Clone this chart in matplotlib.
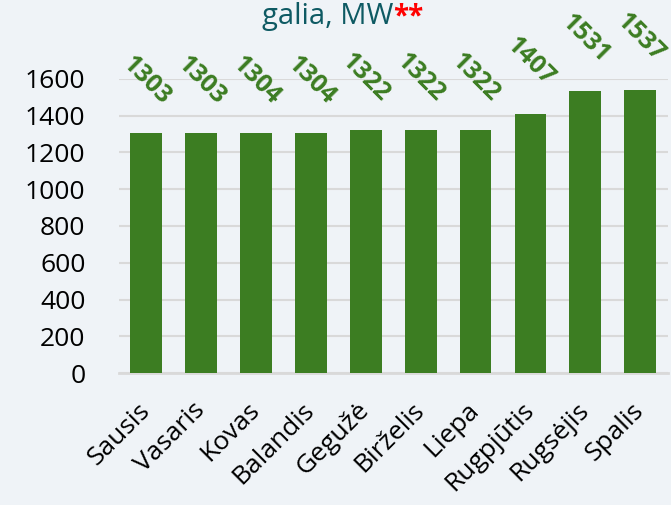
import matplotlib.pyplot as plt

months = ['Sausis', 'Vasaris', 'Kovas', 'Balandis', 'Gegužė', 'Birželis',
          'Liepa', 'Rugpjūtis', 'Rugsėjis', 'Spalis']
power_mw = [1303, 1303, 1304, 1304, 1322, 1322, 1322, 1407, 1531, 1537]
yticks = [0, 200, 400, 600, 800, 1000, 1200, 1400, 1600]

bg = '#eff3f7'
green = '#3c7d22'

plt.rcParams['font.family'] = ['Open Sans', 'DejaVu Sans']

fig = plt.figure(figsize=(6.71, 5.05), dpi=100, facecolor=bg)
ax = fig.add_axes([0.177, 0.261, 0.818, 0.583], facecolor=bg)

x = range(len(months))
ax.bar(x, power_mw, width=0.58, color=green, zorder=3)

# value labels above bars, rotated like the original
for i, v in zip(x, power_mw):
    ax.annotate(str(v), xy=(i, v), xytext=(0, 38), textcoords='offset points',
                ha='center', va='center', rotation=-45, fontsize=18,
                fontweight='bold', color=green, annotation_clip=False)

ax.set_xlim(-0.5, len(months) - 0.5)
ax.set_ylim(0, 1600)
ax.set_yticks(yticks)
ax.yaxis.grid(True, color='#d9d9d9', linewidth=1.5, zorder=0)
ax.tick_params(axis='y', length=0, pad=24, labelsize=19)
ax.tick_params(axis='x', length=0, pad=24, labelsize=19)
ax.set_xticks(list(x))
ax.set_xticklabels(months, rotation=45, ha='right', va='center',
                   rotation_mode='anchor')

for s in ['top', 'right', 'left']:
    ax.spines[s].set_visible(False)
ax.spines['bottom'].set_color('#d9d9d9')
ax.spines['bottom'].set_linewidth(2)

# title, only its last line is visible in the crop
t = fig.text(0.586, 0.952, 'galia, MW', ha='right', va='baseline',
             fontsize=21, color='#0e5a63')
fig.canvas.draw()
ax.annotate('**', xy=(1, 0), xycoords=t, va='bottom', ha='left',
            fontsize=20, color='red', fontweight='bold')

fig.savefig('out.png', dpi=100, facecolor=bg)
